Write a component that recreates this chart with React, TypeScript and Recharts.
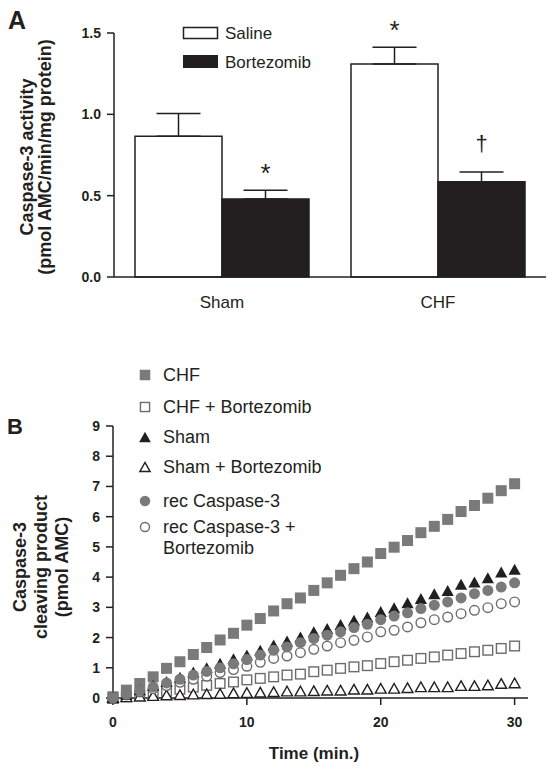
import React from 'react';
import {
  Bar,
  BarChart,
  ErrorBar,
  LabelList,
  Scatter,
  ScatterChart,
  XAxis,
  YAxis,
} from 'recharts';

const FONT = '"Liberation Sans", Arial, Helvetica, sans-serif';
const INK = '#231f20';
const GREY = '#7a7a7a';
const OPEN_GREY = '#6c6c6c';

// panel A: caspase-3 activity
const groups = ['Sham', 'CHF'];
const salineMean = [0.866, 1.309];
const salineSem = [0.139, 0.103];
const bortezomibMean = [0.479, 0.586];
const bortezomibSem = [0.054, 0.059];
const salineMarks = ['', '*'];
const bortezomibMarks = ['*', '†'];
const activityTicks = [0, 0.5, 1.0, 1.5];

// panel B: cleaving product over time
const minutes = [0, 1, 2, 3, 4, 5, 6, 7, 8, 9, 10, 11, 12, 13, 14, 15, 16, 17, 18, 19, 20, 21, 22, 23, 24, 25, 26, 27, 28, 29, 30];
const chf = [0.04, 0.26, 0.48, 0.7, 0.98, 1.2, 1.44, 1.67, 1.92, 2.14, 2.41, 2.63, 2.88, 3.12, 3.31, 3.56, 3.81, 4.06, 4.28, 4.5, 4.78, 4.99, 5.21, 5.47, 5.68, 5.91, 6.17, 6.37, 6.61, 6.86, 7.09];
const chfBortezomib = [0.0, 0.04, 0.09, 0.14, 0.22, 0.29, 0.36, 0.42, 0.48, 0.53, 0.6, 0.65, 0.7, 0.76, 0.79, 0.87, 0.92, 0.98, 1.03, 1.07, 1.14, 1.2, 1.25, 1.31, 1.36, 1.42, 1.47, 1.53, 1.58, 1.64, 1.72];
const sham = [0.0, 0.12, 0.27, 0.42, 0.55, 0.69, 0.86, 1.0, 1.15, 1.3, 1.42, 1.58, 1.75, 1.89, 2.02, 2.19, 2.3, 2.43, 2.57, 2.68, 2.86, 2.99, 3.15, 3.29, 3.45, 3.56, 3.76, 3.84, 3.98, 4.17, 4.26];
const shamBortezomib = [0.02, 0.04, 0.06, 0.08, 0.1, 0.11, 0.13, 0.14, 0.15, 0.17, 0.18, 0.19, 0.21, 0.23, 0.23, 0.24, 0.26, 0.26, 0.29, 0.29, 0.32, 0.32, 0.34, 0.37, 0.37, 0.37, 0.41, 0.41, 0.43, 0.48, 0.5];
const recCaspase = [0.0, 0.12, 0.25, 0.37, 0.5, 0.62, 0.76, 0.88, 1.0, 1.13, 1.27, 1.42, 1.58, 1.69, 1.83, 1.97, 2.08, 2.19, 2.33, 2.44, 2.59, 2.71, 2.82, 2.96, 3.07, 3.18, 3.31, 3.45, 3.56, 3.67, 3.81];
const recCaspaseBortezomib = [0.0, 0.1, 0.2, 0.31, 0.41, 0.52, 0.62, 0.72, 0.84, 0.94, 1.05, 1.18, 1.31, 1.39, 1.5, 1.61, 1.72, 1.83, 1.91, 2.02, 2.19, 2.24, 2.35, 2.49, 2.59, 2.68, 2.79, 2.9, 2.99, 3.12, 3.18];
const productTicks = [0, 1, 2, 3, 4, 5, 6, 7, 8, 9];
const timeTicks = [0, 10, 20, 30];

const barData = groups.map((group, i) => ({
  group,
  saline: salineMean[i],
  salineErr: [0, salineSem[i]],
  salineMark: salineMarks[i],
  bortezomib: bortezomibMean[i],
  bortezomibErr: [0, bortezomibSem[i]],
  bortezomibMark: bortezomibMarks[i],
}));

type Kind = 'square' | 'triangle' | 'circle';

interface SeriesDef {
  name: string[];
  values: number[];
  kind: Kind;
  filled: boolean;
  color: string;
}

// legend order
const seriesDefs: SeriesDef[] = [
  { name: ['CHF'], values: chf, kind: 'square', filled: true, color: GREY },
  { name: ['CHF + Bortezomib'], values: chfBortezomib, kind: 'square', filled: false, color: OPEN_GREY },
  { name: ['Sham'], values: sham, kind: 'triangle', filled: true, color: INK },
  { name: ['Sham + Bortezomib'], values: shamBortezomib, kind: 'triangle', filled: false, color: INK },
  { name: ['rec Caspase-3'], values: recCaspase, kind: 'circle', filled: true, color: GREY },
  { name: ['rec Caspase-3 +', 'Bortezomib'], values: recCaspaseBortezomib, kind: 'circle', filled: false, color: OPEN_GREY },
];
// paint order: filled circles end up on top, like the original
const drawOrder = [0, 1, 3, 5, 2, 4];
const legendRows = [375, 407, 437, 467, 501, 527];

const Marker = ({ kind, filled, color, cx, cy, s = 11 }: {
  kind: Kind; filled: boolean; color: string; cx: number; cy: number; s?: number;
}) => {
  const sw = filled ? 0 : 1.4;
  const size = filled ? s : s - sw;
  const h = size / 2;
  const fill = filled ? color : '#fff';
  if (kind === 'square') {
    return <rect x={cx - h} y={cy - h} width={size} height={size} fill={fill} stroke={color} strokeWidth={sw} />;
  }
  if (kind === 'triangle') {
    const w = h + 0.6;
    return (
      <polygon
        points={`${cx},${cy - h} ${cx + w},${cy + h} ${cx - w},${cy + h}`}
        fill={fill}
        stroke={color}
        strokeWidth={sw}
        strokeLinejoin="miter"
      />
    );
  }
  return <circle cx={cx} cy={cy} r={h} fill={fill} stroke={color} strokeWidth={sw} />;
};

const glyphs: Record<string, { size: number; lift: number }> = {
  '*': { size: 26, lift: 8 },
  '†': { size: 22, lift: 21 },
};

const markLabel = (means: number[], sems: number[]) => (props: any) => {
  const { value, index } = props;
  const vb = props.viewBox ?? props;
  if (!value || !glyphs[value] || index == null) return null;
  const pxPerUnit = vb.height / means[index];
  const errTop = vb.y - sems[index] * pxPerUnit;
  const g = glyphs[value];
  return (
    <text
      x={vb.x + vb.width / 2}
      y={errTop - g.lift}
      textAnchor="middle"
      fontSize={g.size}
      fontFamily={FONT}
      fill={INK}
    >
      {value}
    </text>
  );
};

const axisTick = { fontSize: 14, fontWeight: 700, fill: INK, fontFamily: FONT };

const PanelA = () => (
  <BarChart
    width={554}
    height={330}
    data={barData}
    margin={{ top: 33, right: 8, bottom: 13, left: 0 }}
    barGap={0}
    barSize={87}
  >
    <XAxis
      dataKey="group"
      height={40}
      tickLine={false}
      tickSize={0}
      tickMargin={19}
      axisLine={{ stroke: INK, strokeWidth: 1.5 }}
      tick={{ fontSize: 17, fill: INK, fontFamily: FONT }}
    />
    <YAxis
      width={114}
      domain={[0, 1.5]}
      ticks={activityTicks}
      interval={0}
      tickFormatter={(v: number) => v.toFixed(1)}
      tickSize={7}
      tickMargin={6}
      axisLine={{ stroke: INK, strokeWidth: 1.5 }}
      tickLine={{ stroke: INK, strokeWidth: 1.5 }}
      tick={axisTick}
      label={{
        content: () => (
          <text transform="rotate(-90)" textAnchor="middle" fontSize={18} fontWeight={700} fill={INK} fontFamily={FONT}>
            <tspan x={-157} y={33}>Caspase-3 activity</tspan>
            <tspan x={-157} y={51}>(pmol AMC/min/mg protein)</tspan>
          </text>
        ),
      }}
    />
    <Bar dataKey="saline" fill="#ffffff" stroke={INK} strokeWidth={1.5} isAnimationActive={false}>
      <ErrorBar dataKey="salineErr" direction="y" width={22} stroke={INK} strokeWidth={1.5} />
      <LabelList dataKey="salineMark" content={markLabel(salineMean, salineSem)} />
    </Bar>
    <Bar dataKey="bortezomib" fill={INK} stroke={INK} strokeWidth={1.5} isAnimationActive={false}>
      <ErrorBar dataKey="bortezomibErr" direction="y" width={22} stroke={INK} strokeWidth={1.5} />
      <LabelList dataKey="bortezomibMark" content={markLabel(bortezomibMean, bortezomibSem)} />
    </Bar>
  </BarChart>
);

const PanelB = () => (
  <ScatterChart width={554} height={441} margin={{ top: 96, right: 26, bottom: 23, left: 0 }}>
    <XAxis
      type="number"
      dataKey="t"
      domain={[0, 31]}
      ticks={timeTicks}
      interval={0}
      height={50}
      tickSize={7}
      tickMargin={12}
      axisLine={{ stroke: INK, strokeWidth: 1.5 }}
      tickLine={{ stroke: INK, strokeWidth: 1.5 }}
      tick={axisTick}
      label={{
        content: (p: any) => {
          const vb = p.viewBox;
          return (
            <text x={314} y={vb.y + 61} textAnchor="middle" fontSize={17} fontWeight={700} fill={INK} fontFamily={FONT}>
              Time (min.)
            </text>
          );
        },
      }}
    />
    <YAxis
      type="number"
      dataKey="v"
      width={113}
      domain={[0, 9]}
      ticks={productTicks}
      interval={0}
      tickSize={7}
      tickMargin={6}
      axisLine={{ stroke: INK, strokeWidth: 1.5 }}
      tickLine={{ stroke: INK, strokeWidth: 1.5 }}
      tick={axisTick}
      label={{
        content: () => (
          <text transform="rotate(-90)" textAnchor="middle" fontSize={18} fontWeight={700} fill={INK} fontFamily={FONT}>
            <tspan x={-237} y={26}>Caspase-3</tspan>
            <tspan x={-237} y={47}>cleaving product</tspan>
            <tspan x={-237} y={68}>(pmol AMC)</tspan>
          </text>
        ),
      }}
    />
    {drawOrder.map((k) => {
      const s = seriesDefs[k];
      return (
        <Scatter
          key={s.name.join(' ')}
          name={s.name.join(' ')}
          data={minutes.map((t, i) => ({ t, v: s.values[i] }))}
          isAnimationActive={false}
          shape={(p: any) => <Marker kind={s.kind} filled={s.filled} color={s.color} cx={p.cx} cy={p.cy} />}
        />
      );
    })}
  </ScatterChart>
);

const Overlay = () => (
  <svg width={554} height={771} style={{ position: 'absolute', left: 0, top: 0, pointerEvents: 'none' }}>
    <text x={8} y={29} fontSize={25} fontWeight={700} fill={INK} fontFamily={FONT}>A</text>
    <text x={7} y={434} fontSize={22} fontWeight={700} fill={INK} fontFamily={FONT}>B</text>

    <rect x={183.5} y={27.5} width={34} height={11} fill="#fff" stroke={INK} strokeWidth={1.5} />
    <text x={225} y={33} dominantBaseline="central" fontSize={17} fill={INK} fontFamily={FONT}>Saline</text>
    <rect x={183} y={55} width={35} height={13} fill={INK} />
    <text x={225} y={62} dominantBaseline="central" fontSize={17} fill={INK} fontFamily={FONT}>Bortezomib</text>

    {seriesDefs.map((s, i) => (
      <g key={s.name.join(' ')}>
        <Marker kind={s.kind} filled={s.filled} color={s.color} cx={145} cy={legendRows[i]} s={10.5} />
        {s.name.map((line, j) => (
          <text
            key={line}
            x={163}
            y={legendRows[i] + j * 21}
            dominantBaseline="central"
            fontSize={18}
            fill={INK}
            fontFamily={FONT}
          >
            {line}
          </text>
        ))}
      </g>
    ))}
  </svg>
);

export default function App() {
  return (
    <div style={{ position: 'absolute', left: 0, top: 0, width: 554, height: 771, background: '#fff' }}>
      <div style={{ position: 'absolute', left: 0, top: 0 }}>
        <PanelA />
      </div>
      <div style={{ position: 'absolute', left: 0, top: 330 }}>
        <PanelB />
      </div>
      <Overlay />
    </div>
  );
}
